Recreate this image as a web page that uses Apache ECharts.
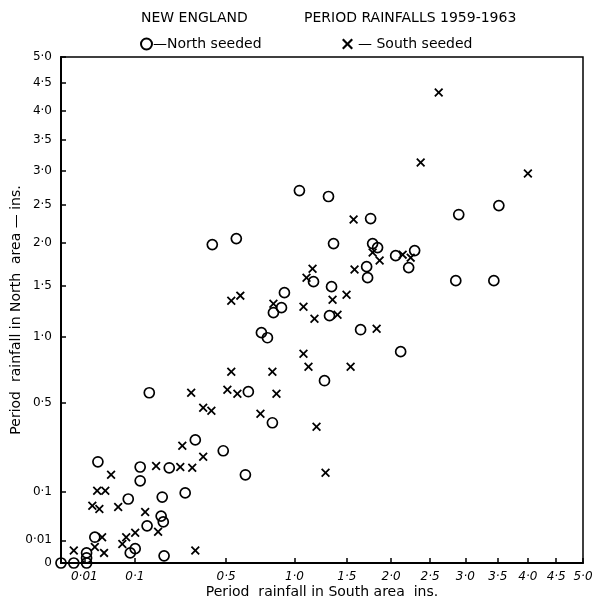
<!DOCTYPE html>
<html><head><meta charset="utf-8">
<script src="https://cdn.jsdelivr.net/npm/echarts@6/dist/echarts.min.js"></script>
<style>html,body{margin:0;padding:0;background:#fff}#c{width:596px;height:606px}</style>
</head><body><div id="c"></div>
<script>
// Tick values (inches) and their printed labels
const tickValues = [0, 0.01, 0.1, 0.5, 1.0, 1.5, 2.0, 2.5, 3.0, 3.5, 4.0, 4.5, 5.0];
const tickLabels = ['0', '0·01', '0·1', '0·5', '1·0', '1·5', '2·0', '2·5', '3·0', '3·5', '4·0', '4·5', '5·0'];

// O — North seeded: rainfall in South area (x) and North area (y), inches
const northSeededSouth = [0, 0.003, 0.012, 0.012, 0.012, 0.025, 0.021, 0.088, 0.101, 0.083,
  0.115, 0.115, 0.136, 0.184, 0.192, 0.188, 0.195, 0.215, 0.283, 0.331,
  0.483, 0.624, 1.043, 1.313, 1.759, 0.420, 0.564, 1.363, 1.782, 1.839,
  2.055, 1.714, 1.170, 1.725, 1.343, 0.916, 0.892, 0.828, 1.323, 0.737,
  0.782, 1.647, 0.143, 0.644, 1.274, 2.117, 0.820, 3.518, 2.903, 2.860,
  3.438, 2.295, 2.218];
const northSeededNorth = [0, 0, 0, 0.0005, 0.002, 0.200, 0.013, 0.002, 0.004, 0.080,
  0.180, 0.132, 0.027, 0.043, 0.033, 0.085, 0.001, 0.177, 0.096, 0.296,
  0.246, 0.152, 2.709, 2.623, 2.317, 1.980, 2.055, 1.992, 1.992, 1.943,
  1.845, 1.715, 1.546, 1.590, 1.491, 1.427, 1.273, 1.224, 1.195, 1.036,
  0.991, 1.063, 0.566, 0.573, 0.649, 0.872, 0.384, 2.495, 2.371, 1.557,
  1.557, 1.906, 1.704];

// X — South seeded
const southSeededSouth = [0.003, 0.018, 0.027, 0.024, 0.036, 0.046, 0.021, 0.031, 0.034, 0.060,
  0.069, 0.078, 0.101, 0.130, 0.166, 0.173, 0.261, 0.270, 0.316, 0.331,
  0.371, 0.371, 0.415, 0.311, 0.532, 0.508, 0.571, 1.571, 1.782, 1.863,
  1.161, 1.106, 1.581, 0.532, 0.590, 0.828, 1.079, 1.179, 1.353, 1.496,
  1.403, 1.828, 1.079, 1.124, 0.820, 1.539, 0.852, 0.730, 1.198, 1.284,
  2.618, 2.374, 4.000, 2.142, 2.244];
const southSeededNorth = [0.003, 0.064, 0.057, 0.102, 0.102, 0.152, 0.005, 0.013, 0.002, 0.061,
  0.007, 0.013, 0.018, 0.051, 0.184, 0.019, 0.180, 0.268, 0.177, 0.003,
  0.220, 0.470, 0.452, 0.566, 0.714, 0.586, 0.559, 2.303, 1.882, 1.786,
  1.692, 1.590, 1.681, 1.344, 1.396, 1.313, 1.283, 1.166, 1.354, 1.406,
  1.204, 1.072, 0.855, 0.752, 0.714, 0.752, 0.559, 0.435, 0.362, 0.159,
  4.325, 3.133, 2.963, 1.857, 1.821];

// square-root scale used by the original graph
const f = Math.sqrt;
const pairs = (xs, ys) => xs.map((x, i) => [f(x), f(ys[i])]);
const labelFor = v => {
  const i = tickValues.findIndex(t => Math.abs(f(t) - v) < 1e-6);
  return i >= 0 ? tickLabels[i] : '';
};
const xPath = 'path://M0,1.4L1.4,0L5,3.6L8.6,0L10,1.4L6.4,5L10,8.6L8.6,10L5,6.4L1.4,10L0,8.6L3.6,5Z';
const FONT = 'DejaVu Sans';

const chart = echarts.init(document.getElementById('c'), null, {renderer: 'canvas'});
chart.setOption({
  backgroundColor: '#fff',
  animation: false,
  textStyle: {fontFamily: FONT, color: '#000'},
  title: [
    {text: 'NEW ENGLAND', left: 136, top: 6, textStyle: {fontFamily: FONT, fontSize: 14, fontWeight: 'normal', color: '#000'}},
    {text: 'PERIOD RAINFALLS 1959-1963', left: 299, top: 6, textStyle: {fontFamily: FONT, fontSize: 14, fontWeight: 'normal', color: '#000'}}
  ],
  legend: [
    {left: 135, top: 32, itemWidth: 11, itemHeight: 11, itemGap: 2,
     data: [{name: 'North seeded', icon: 'circle'}],
     formatter: n => '—' + n,
     textStyle: {fontFamily: FONT, fontSize: 14, color: '#000', padding: [0, 0, 0, -4]}},
    {left: 337, top: 32, itemWidth: 11, itemHeight: 11, itemGap: 2,
     data: [{name: 'South seeded', icon: xPath}],
     formatter: n => '— ' + n,
     textStyle: {fontFamily: FONT, fontSize: 14, color: '#000'}}
  ],
  grid: {left: 61, right: 13, top: 57, bottom: 43, show: true, borderColor: '#000', borderWidth: 1.5,
         containLabel: false, outerBoundsMode: 'none'},
  xAxis: {
    type: 'value', min: 0, max: f(5),
    name: 'Period  rainfall in South area  ins.',
    nameLocation: 'middle', nameGap: 22, nameMoveOverlap: false,
    nameTextStyle: {fontFamily: FONT, fontSize: 14, color: '#000'},
    axisLine: {show: true, lineStyle: {color: '#000', width: 2}},
    axisTick: {show: true, inside: true, length: 5, lineStyle: {color: '#000', width: 1.5},
               customValues: tickValues.slice(1).map(f)},
    axisLabel: {customValues: tickValues.slice(1).map(f), formatter: labelFor, margin: 8,
                fontFamily: FONT, fontSize: 12, fontStyle: 'italic', color: '#000'},
    splitLine: {show: false}
  },
  yAxis: {
    type: 'value', min: 0, max: f(5),
    name: 'Period  rainfall in North  area — ins.',
    nameLocation: 'middle', nameGap: 38, nameRotate: 90, nameMoveOverlap: false,
    nameTextStyle: {fontFamily: FONT, fontSize: 14, color: '#000'},
    axisLine: {show: true, lineStyle: {color: '#000', width: 2}},
    axisTick: {show: true, inside: true, length: 5, lineStyle: {color: '#000', width: 1.5},
               customValues: tickValues.map(f)},
    axisLabel: {customValues: tickValues.map(f), formatter: labelFor, margin: 9,
                fontFamily: FONT, fontSize: 12, color: '#000'},
    splitLine: {show: false}
  },
  series: [
    {name: 'North seeded', type: 'scatter', symbol: 'circle', symbolSize: 10,
     itemStyle: {color: 'rgba(0,0,0,0)', borderColor: '#000', borderWidth: 1.7, opacity: 1},
     data: pairs(northSeededSouth, northSeededNorth)},
    {name: 'South seeded', type: 'scatter', symbol: xPath, symbolSize: 9,
     itemStyle: {color: '#000', borderWidth: 0, opacity: 1},
     data: pairs(southSeededSouth, southSeededNorth)}
  ]
});
</script></body></html>
